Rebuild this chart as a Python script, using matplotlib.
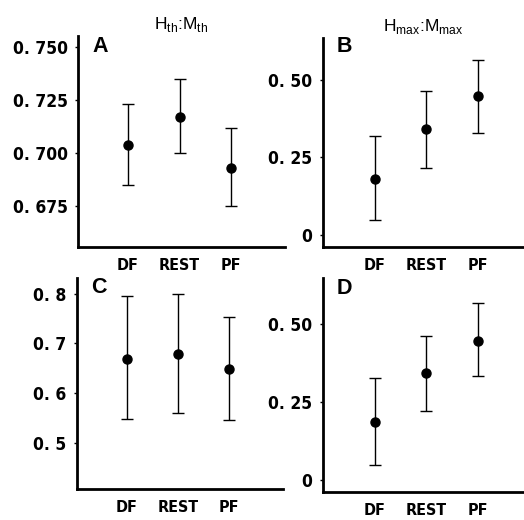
import matplotlib.pyplot as plt

groups = ['DF', 'REST', 'PF']

# panel A  H_th:M_th
a_mean = [0.704, 0.717, 0.693]
a_low = [0.685, 0.700, 0.675]
a_high = [0.723, 0.735, 0.712]
a_ticks = [0.675, 0.700, 0.725, 0.750]
a_ticklabels = ['0. 675', '0. 700', '0. 725', '0. 750']

# panel B  H_max:M_max
b_mean = [0.180, 0.341, 0.448]
b_low = [0.048, 0.217, 0.330]
b_high = [0.319, 0.465, 0.565]
b_ticks = [0, 0.25, 0.50]
b_ticklabels = ['0', '0. 25', '0. 50']

# panel C
c_mean = [0.668, 0.679, 0.648]
c_low = [0.547, 0.559, 0.545]
c_high = [0.795, 0.800, 0.753]
c_ticks = [0.5, 0.6, 0.7, 0.8]
c_ticklabels = ['0. 5', '0. 6', '0. 7', '0. 8']

# panel D
d_mean = [0.185, 0.343, 0.444]
d_low = [0.050, 0.221, 0.333]
d_high = [0.325, 0.462, 0.566]
d_ticks = [0, 0.25, 0.50]
d_ticklabels = ['0', '0. 25', '0. 50']

num_font = dict(family='DejaVu Sans', fontstretch='condensed', fontweight='bold')


def draw_panel(ax, letter, mean, low, high, ticks, ticklabels, ylim, xlim, letter_pos):
    """error bar panel in the old journal style"""
    x = list(range(len(groups)))
    yerr = [[m - l for m, l in zip(mean, low)], [h - m for m, h in zip(mean, high)]]
    ax.errorbar(x, mean, yerr=yerr, fmt='o', color='black', ms=6.5,
                elinewidth=1, capsize=4, capthick=1)
    ax.set_xlim(*xlim)
    ax.set_ylim(*ylim)
    ax.set_xticks(x)
    ax.set_xticklabels(groups, fontsize=11.5, **num_font)
    ax.set_yticks(ticks)
    ax.set_yticklabels(ticklabels, fontsize=12.5, **num_font)
    ax.tick_params(axis='x', length=0, pad=8)
    ax.tick_params(axis='y', length=2, width=1, pad=5.5)
    for s in ['top', 'right']:
        ax.spines[s].set_visible(False)
    for s in ['left', 'bottom']:
        ax.spines[s].set_linewidth(2)
    ax.text(letter_pos[0], letter_pos[1], letter, transform=ax.transAxes,
            family='Liberation Sans', fontweight='bold', fontsize=15.5,
            ha='left', va='center')


fig = plt.figure(figsize=(5.24, 5.20), dpi=100)

ax_a = fig.add_axes([0.149, 0.525, 0.395, 0.406])
ax_b = fig.add_axes([0.616, 0.525, 0.384, 0.402])
ax_c = fig.add_axes([0.147, 0.060, 0.393, 0.405])
ax_d = fig.add_axes([0.616, 0.054, 0.384, 0.411])

draw_panel(ax_a, 'A', a_mean, a_low, a_high, a_ticks, a_ticklabels,
           (0.656, 0.755), (-0.97, 3.05), (0.07, 0.95))
draw_panel(ax_b, 'B', b_mean, b_low, b_high, b_ticks, b_ticklabels,
           (-0.039, 0.635), (-1.01, 2.89), (0.07, 0.96))
draw_panel(ax_c, 'C', c_mean, c_low, c_high, c_ticks, c_ticklabels,
           (0.407, 0.831), (-0.97, 3.05), (0.07, 0.955))
draw_panel(ax_d, 'D', d_mean, d_low, d_high, d_ticks, d_ticklabels,
           (-0.0375, 0.645), (-1.01, 2.89), (0.07, 0.953))

ax_a.set_title(r'H$_{\mathregular{th}}$:M$_{\mathregular{th}}$', family='Liberation Sans',
               fontsize=12.5, pad=5)
ax_b.set_title(r'H$_{\mathregular{max}}$:M$_{\mathregular{max}}$', family='Liberation Sans',
               fontsize=12.5, pad=5)

fig.savefig('out.png', dpi=100)
